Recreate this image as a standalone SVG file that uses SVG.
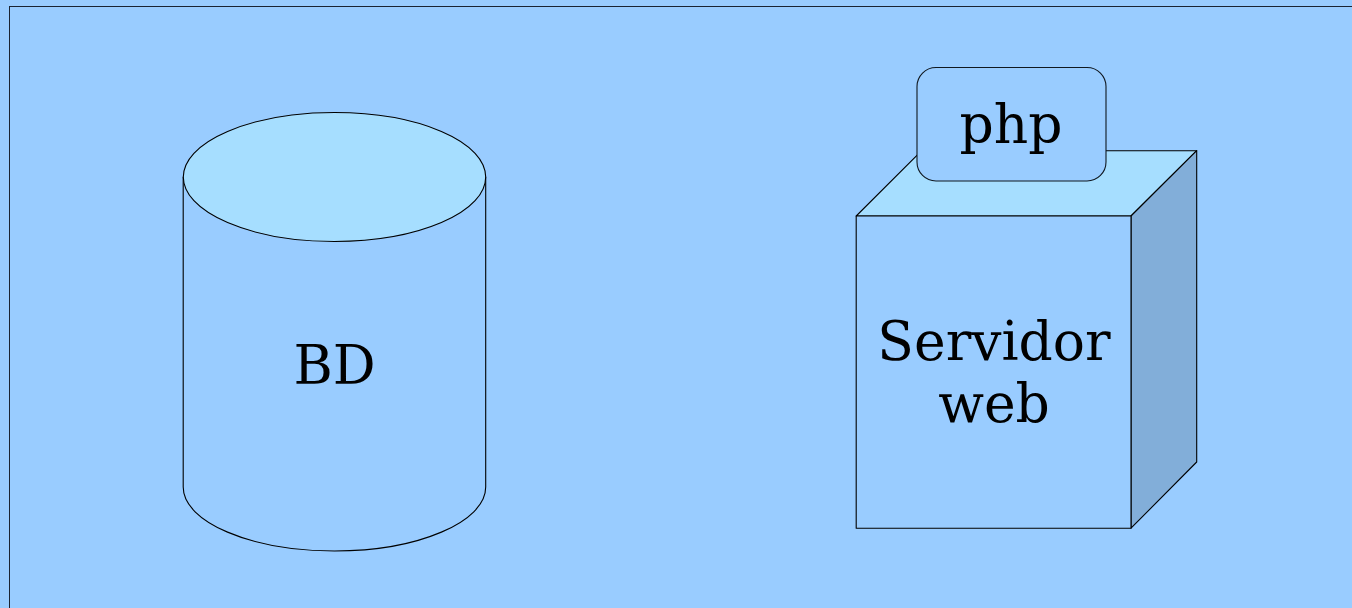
<svg xmlns="http://www.w3.org/2000/svg" width="1352" height="608" viewBox="0 0 1352 608">
<style>
.s{stroke:#000;stroke-width:1.1;stroke-linejoin:round}
.m{fill:#99ccff}.l{fill:#a6deff}.d{fill:#82aed9}
text{font-family:"DejaVu Serif",serif;font-size:53.5px;fill:#000;text-anchor:middle}
</style>
<rect width="1352" height="608" fill="#99ccff"/>
<g id="frame"><rect class="m" x="9.5" y="6.5" width="1400" height="640" stroke="#1a2433" stroke-width="1"/></g>
<g id="bd">
<path class="s m" d="M183.200 177V487C183.200 522 251 551 334.500 551S485.700 522 485.700 487V177Z"/>
<ellipse class="s l" cx="334.500" cy="177" rx="151.200" ry="64.500"/>
<text x="334.500" y="383.500">BD</text>
</g>
<g id="servidor">
<path class="s l" d="M856.200 216L921.700 150.700H1196.700L1131 216Z"/>
<path class="s d" d="M1131 216L1196.700 150.700V462L1131 528.200Z"/>
<rect class="s m" x="856.200" y="216" width="274.800" height="312.300"/>
<text x="994" y="360">Servidor</text>
<text x="994" y="422">web</text>
</g>
<g id="php">
<rect x="917" y="67.500" width="189" height="113.500" rx="19" ry="19" fill="#99ccff" stroke="#101820" stroke-width="1.1"/>
<text x="1011" y="143">php</text>
</g>
<g id="connectors"></g>
</svg>
